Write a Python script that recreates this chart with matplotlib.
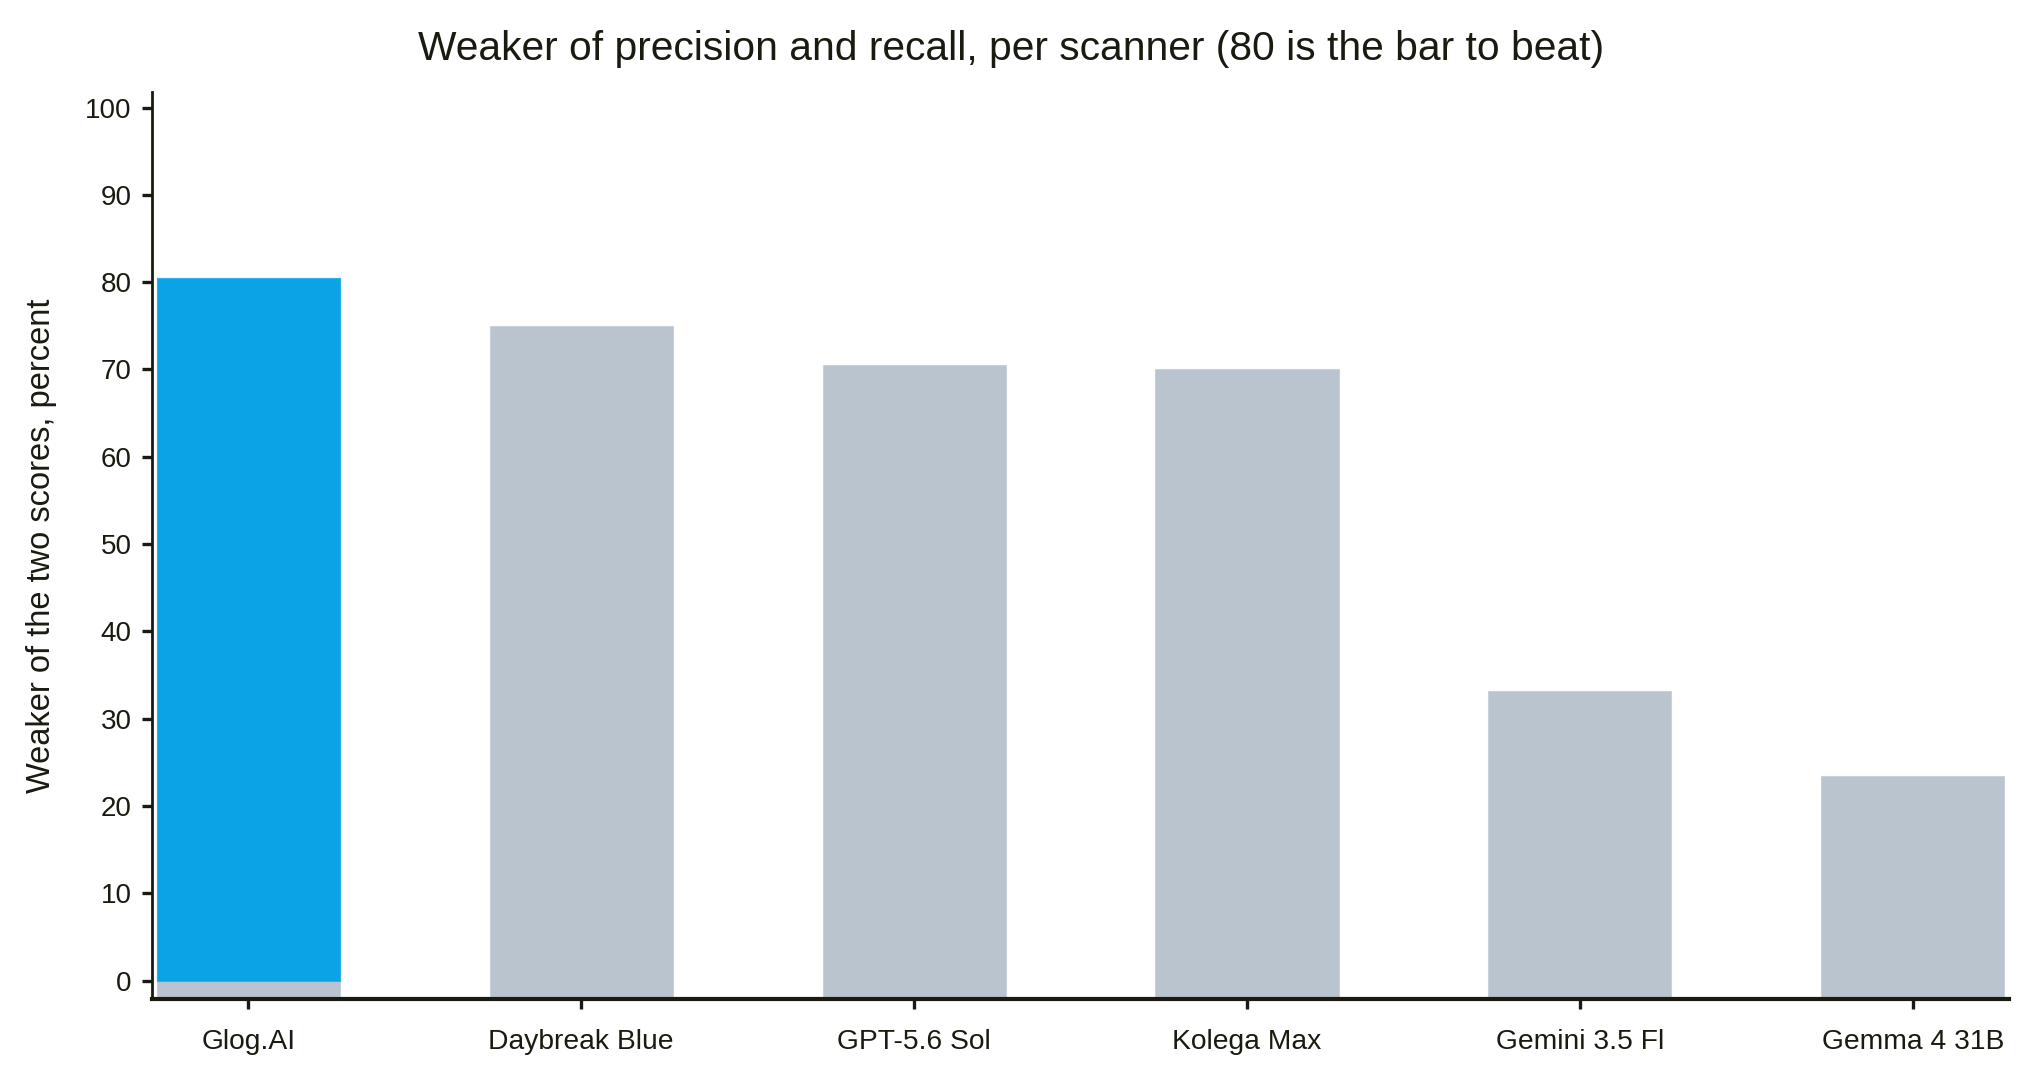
import matplotlib.pyplot as plt
import numpy as np

plt.rcParams['font.family'] = ['Liberation Sans', 'DejaVu Sans']

# data
scanners = ["Glog.AI", "Daybreak Blue", "GPT-5.6 Sol", "Kolega Max", "Gemini 3.5 Fl", "Gemma 4 31B"]
weaker_score = [80.5, 75.0, 70.5, 70.0, 33.2, 23.4]
highlight = "Glog.AI"

ink = "#1a1a10"
grey = "#bac4cf"
blue = "#0ba3e6"
ymin, ymax = -2.1, 101.8

fig = plt.figure(figsize=(10.2, 5.4), dpi=200)
ax = fig.add_axes([0.0744, 0.075, 0.9106, 0.84])

x = np.arange(len(scanners))
# grey bars run from the floor of the axis, the winner gets a blue bar from 0
ax.bar(x, np.array(weaker_score) - ymin, bottom=ymin, width=0.55,
       color=grey, edgecolor="#c8d2dc", linewidth=0.4)
for i, name in enumerate(scanners):
    if name == highlight:
        ax.bar(i, weaker_score[i], width=0.55, color=blue,
               edgecolor="#2cb0ee", linewidth=0.4)

ax.set_xlim(-0.29, 5.29)
ax.set_ylim(ymin, ymax)
ax.set_yticks(range(0, 101, 10))
ax.set_xticks(x)
ax.set_xticklabels(scanners)

for side in ["top", "right"]:
    ax.spines[side].set_visible(False)
ax.spines["left"].set_linewidth(1.0)
ax.spines["bottom"].set_linewidth(1.5)
ax.spines["left"].set_color(ink)
ax.spines["bottom"].set_color(ink)
ax.tick_params(axis="both", colors=ink, labelsize=10, length=3.7, width=1.2)
ax.tick_params(axis="x", labelsize=10.2, pad=7)

ax.set_ylabel("Weaker of the two scores, percent", fontsize=11.75, color=ink, labelpad=10)
fig.suptitle("Weaker of precision and recall, per scanner (80 is the bar to beat)",
             fontsize=14.7, color=ink, x=0.4955, y=0.972)

fig.savefig("out.png", dpi=200)
